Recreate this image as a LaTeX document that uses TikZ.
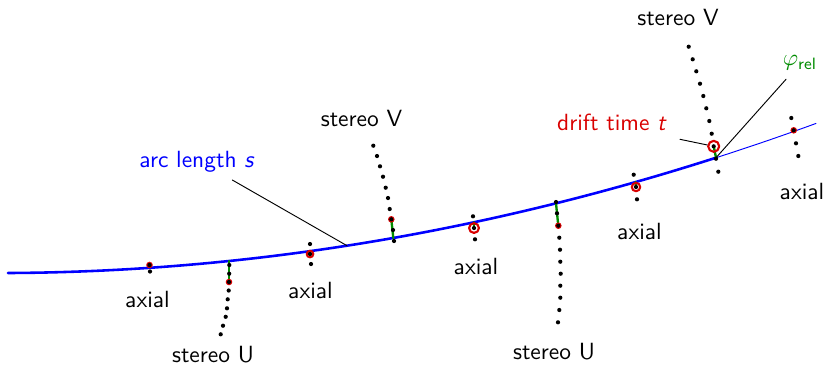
\documentclass[tikz,border=0pt]{standalone}
\begin{document}
\begin{tikzpicture}[
        x=0.015cm, y=-0.015cm,
        line cap=round,
        line join=round,
        every node/.style={font=\sffamily},
        declare function={trk(\x)=273-0.51*(\x-8)/100-2.228*((\x-8)/100)^2;},
        hitring/.style={circle, draw=red!85!black, line width=0.9pt, inner sep=0pt},
        phirel/.style={green!55!black, line width=1pt}
    ]
        \useasboundingbox (0,0) rectangle (827,366);
        % Track
        \draw[blue, line width=1.1pt] plot[domain=8:716, samples=60] (\x,{trk(\x)});
        \draw[blue, line width=0.4pt] plot[domain=716:816, samples=10] (\x,{trk(\x)});
        % Points on the track
        \coordinate (cU1) at (229,{trk(229)});
        \coordinate (cA2) at (310,{trk(310)});
        \coordinate (cV1) at (393.3,{trk(393.3)});
        \coordinate (cA3) at (474,{trk(474)});
        \coordinate (cU2) at (556,{trk(556)});
        \coordinate (cA4) at (635.5,{trk(635.5)});
        \coordinate (cV2) at (716,{trk(716)});
        \coordinate (cA5) at (793.7,{trk(793.7)});
        \coordinate (cArc) at (347,{trk(347)});
        % Hit wires
        \coordinate (hA1) at (149.5,265);
        \coordinate (hU1) at (229,282);
        \coordinate (hA2) at (310,254);
        \coordinate (hV1) at (391.3,219.3);
        \coordinate (hA3) at (474,228);
        \coordinate (hU2) at (558.3,225.7);
        \coordinate (hA4) at (636,187);
        \coordinate (hV2) at (713.7,146.3);
        \coordinate (hA5) at (793.7,130.3);
        % Relative angle segments
        \draw[phirel] (hU1) -- (cU1);
        \draw[phirel] (hA2) -- (cA2);
        \draw[phirel] (hV1) -- (cV1);
        \draw[phirel] (hA3) -- (cA3);
        \draw[phirel] (hU2) -- (cU2);
        \draw[phirel] (hA4) -- (cA4);
        \draw[phirel] (hV2) -- (cV2);
        \draw[phirel] (hA5) -- (cA5);
        % Drift circles
        \foreach \p in {hA1,hU1,hV1,hU2,hA5}{
            \fill[red!85!black] (\p) circle (1.4pt);
        }
        \node[hitring, minimum size=2.8pt] (rA2) at (hA2) {};
        \node[hitring, minimum size=4.2pt] (rA3) at (hA3) {};
        \node[hitring, minimum size=3.6pt] (rA4) at (hA4) {};
        \node[hitring, minimum size=4.7pt] (rV2) at (hV2) {};
        % Wires
        \foreach \x/\y in {149.5/265, 150/271.5,
            229.3/265, 229.2/273.7, 229/282, 228.7/290.5, 227.7/299.3, 227/308.3, 225.7/316.8, 223/325.7, 220.7/334.3,
            310/244, 310/254, 311/264,
            373.3/145.7, 377/156, 380/166.3, 383/176.7, 385.7/187.7, 388/198, 389.7/209, 391.3/219.3, 393/230, 394/241,
            473/216.3, 474/228, 475/239.3,
            556/202, 557/213.3, 558.3/225.7, 559.3/237.7, 560/249.7, 560.3/261.7, 560.7/273.7, 560.3/285.7, 560.3/297.7, 559.3/310, 558/322.3,
            633.7/174.7, 636/187, 637/199.3,
            688.7/46.7, 692.7/59.3, 696.3/71.3, 700/83.7, 703.3/96, 706.3/108.3, 709.3/121, 711.7/133.7, 713.7/146.3, 716/158.7, 718.3/171.7,
            791.3/118, 793.7/130.3, 796/143.3, 798.3/156}{
            \fill (\x,\y) circle (0.9pt);
        }
        % Labels
        \node (lAx1) at (147.5,299) {axial};
        \node (lAx2) at (310.5,290) {axial};
        \node (lAx3) at (476,266) {axial};
        \node (lAx4) at (639.5,231) {axial};
        \node (lAx5) at (802,191.5) {axial};
        \node (lU1) at (213,355) {stereo U};
        \node (lU2) at (554,352) {stereo U};
        \node (lV1) at (361.5,118.5) {stereo V};
        \node (lV2) at (678,17.5) {stereo V};
        \node[blue] (lArc) at (197,161.5) {arc length \textsl{s}};
        \node[red!85!black] (lDrift) at (612,122.5) {drift time \textsl{t}};
        \node[green!55!black] (lPhi) at (800,63) {$\varphi_{\mathsf{rel}}$};
        % Annotations
        \coordinate (arcFoot) at (232.3,180);
        \coordinate (driftFoot) at (680,139.3);
        \coordinate (phiFoot) at (786,79.3);
        \draw (arcFoot) -- (cArc);
        \draw (driftFoot) -- (rV2);
        \draw (phiFoot) -- (cV2);
    \end{tikzpicture}
\end{document}
